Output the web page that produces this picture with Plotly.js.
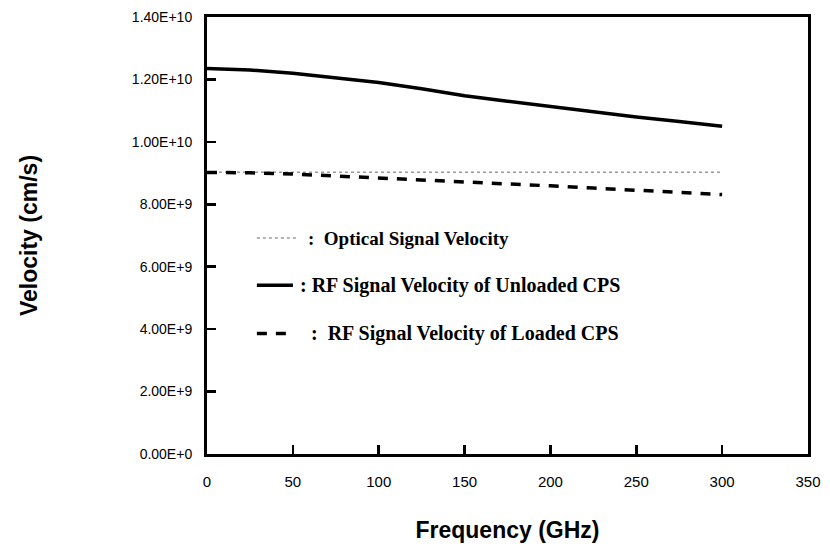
<!DOCTYPE html>
<html>
<head>
<meta charset="utf-8">
<script src="https://cdn.plot.ly/plotly-3.0.1.min.js"></script>
<style>
  html, body { margin: 0; padding: 0; background: #fff; }
  #chart { width: 830px; height: 558px; }
</style>
</head>
<body>
<div id="chart"></div>
<script>
// Frequency sweep (GHz)
const freq = [0, 25, 50, 75, 100, 125, 150, 175, 200, 225, 250, 275, 300];

// Velocities (cm/s)
const opticalVel  = [9.03e9, 9.03e9, 9.03e9, 9.03e9, 9.03e9, 9.03e9, 9.03e9, 9.03e9, 9.03e9, 9.03e9, 9.03e9, 9.03e9, 9.03e9];
const unloadedVel = [1.235e10, 1.23e10, 1.22e10, 1.205e10, 1.19e10, 1.17e10, 1.148e10, 1.13e10, 1.113e10, 1.095e10, 1.08e10, 1.065e10, 1.05e10];
const loadedVel   = [9.02e9, 9.01e9, 8.97e9, 8.91e9, 8.85e9, 8.78e9, 8.72e9, 8.66e9, 8.59e9, 8.52e9, 8.45e9, 8.38e9, 8.31e9];

// Key labels
const seriesNames = ["Optical Signal Velocity",
                     "RF Signal Velocity of Unloaded CPS",
                     "RF Signal Velocity of Loaded CPS"];

// Axis ticks
const xTicks = [0, 50, 100, 150, 200, 250, 300, 350];
const yTickVals = [0, 2e9, 4e9, 6e9, 8e9, 1e10, 1.2e10, 1.4e10];
const yTickText = ["0.00E+0", "2.00E+9", "4.00E+9", "6.00E+9", "8.00E+9", "1.00E+10", "1.20E+10", "1.40E+10"];

const styles = [
  { color: "#9a9a9a", width: 1.5, dash: "dot" },
  { color: "#000", width: 3.5, dash: "solid" },
  { color: "#000", width: 3.5, dash: "10px,9px" }
];
const series = [opticalVel, unloadedVel, loadedVel];

const traces = series.map((v, i) => ({
  x: freq, y: v, name: seriesNames[i], mode: "lines", showlegend: false,
  line: styles[i]
}));

// Hand-placed key inside the plot area (paper coordinates)
const keyRows = [0.494, 0.386, 0.276];
const keySample = [[0.083, 0.148], [0.083, 0.143], [0.083, 0.140]];
const keyText = [0.165, 0.152, 0.169];
const keySize = [19, 20, 20];
const keyPrefix = [":\u00a0\u00a0", ":\u00a0", ":\u00a0\u00a0"];

const shapes = keyRows.map((yy, i) => ({
  type: "line", xref: "paper", yref: "paper",
  x0: keySample[i][0], x1: keySample[i][1], y0: yy, y1: yy,
  line: styles[i]
}));

const annotations = keyRows.map((yy, i) => ({
  xref: "paper", yref: "paper", x: keyText[i], y: yy,
  xanchor: "left", yanchor: "middle", showarrow: false,
  text: keyPrefix[i] + seriesNames[i],
  font: { family: "Liberation Serif, Times New Roman, serif", size: keySize[i], color: "#000", weight: "bold" }
}));

const axisFontX = { family: "Liberation Sans, Arial, sans-serif", size: 15, color: "#000" };
const axisFontY = { family: "Liberation Sans, Arial, sans-serif", size: 14, color: "#000" };

const layout = {
  width: 830, height: 558,
  margin: { l: 207, r: 22, t: 17, b: 104 },
  paper_bgcolor: "#fff", plot_bgcolor: "#fff",
  showlegend: false,
  shapes: shapes,
  annotations: annotations,
  xaxis: {
    range: [0, 350], tickvals: xTicks, ticktext: xTicks.map(String),
    ticks: "inside", ticklen: 9, tickwidth: 2.5, tickcolor: "#000",
    showline: true, linewidth: 3, linecolor: "#000", mirror: true,
    showgrid: false, zeroline: false, tickfont: axisFontX, ticklabelstandoff: 12,
    title: { text: "Frequency (GHz)", standoff: 33,
             font: { family: "Liberation Sans, Arial, sans-serif", size: 23, color: "#000", weight: "bold" } }
  },
  yaxis: {
    range: [0, 1.4e10], tickvals: yTickVals, ticktext: yTickText,
    ticks: "inside", ticklen: 9, tickwidth: 2.5, tickcolor: "#000",
    showline: true, linewidth: 3, linecolor: "#000", mirror: true,
    showgrid: false, zeroline: false, tickfont: axisFontY, ticklabelstandoff: 9,
    title: { text: "Velocity (cm/s)", standoff: 88,
             font: { family: "Liberation Sans, Arial, sans-serif", size: 23, color: "#000", weight: "bold" } }
  }
};

Plotly.newPlot("chart", traces, layout, { displayModeBar: false, staticPlot: true });
</script>
</body>
</html>
